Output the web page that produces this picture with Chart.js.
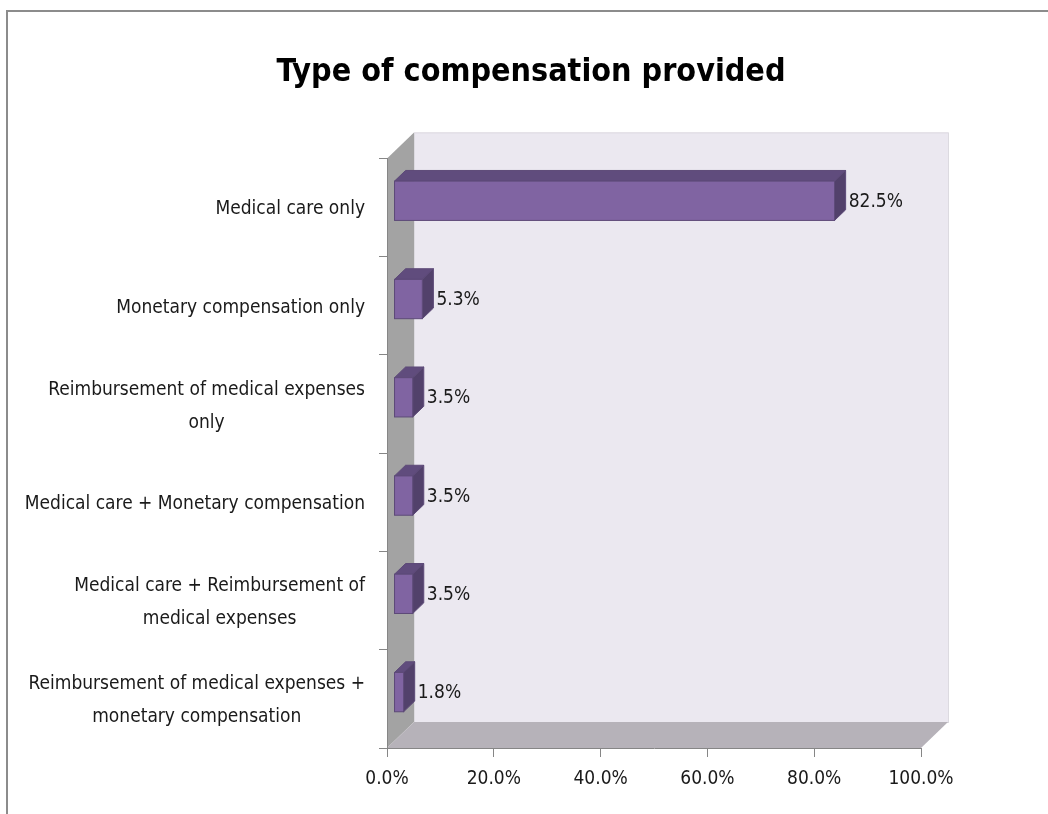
<!DOCTYPE html>
<html>
<head>
<meta charset="utf-8">
<title>Type of compensation provided</title>
<script src="https://cdn.jsdelivr.net/npm/chart.js@4.4.1/dist/chart.umd.min.js"></script>
<style>
  html, body { margin: 0; padding: 0; background: #fff; }
  #wrap { width: 1048px; height: 814px; }
</style>
</head>
<body>
<div id="wrap"><canvas id="comp-chart" width="1048" height="814"></canvas></div>
<script>
// categories, top to bottom
const categories = [
  "Medical care only",
  "Monetary compensation only",
  ["Reimbursement of medical expenses", "only"],
  "Medical care + Monetary compensation",
  ["Medical care + Reimbursement of", "medical expenses"],
  ["Reimbursement of medical expenses +", "monetary compensation"]
];
// share of respondents, percent
const shares = [82.5, 5.3, 3.5, 3.5, 3.5, 1.8];
const xTickValues = [0, 20, 40, 60, 80, 100];

const FONT = "'Liberation Sans Narrow', 'DejaVu Sans Condensed', 'Liberation Sans', sans-serif";
const TEXT_SIZE = 19;

// oblique depth of the box (front plane -> back wall)
const DX = 27, DY = -26;
// bars sit between these depth fractions
const Z1 = 0.26, Z2 = 0.67;

const threeD = {
  id: 'threeD',
  beforeDraw(chart) {
    const ctx = chart.ctx;
    const a = chart.chartArea;
    ctx.save();
    // outer frame
    ctx.fillStyle = '#8c8c8c';
    ctx.fillRect(6, 10, 1048, 2);
    ctx.fillRect(6, 10, 2, 814);

    // back wall
    ctx.fillStyle = '#ebe8f0';
    ctx.fillRect(a.left + DX, a.top + DY, a.right - a.left, a.bottom - a.top);
    ctx.strokeStyle = '#dcdae0';
    ctx.lineWidth = 1;
    ctx.strokeRect(a.left + DX + 0.5, a.top + DY + 0.5, a.right - a.left, a.bottom - a.top);

    // side wall
    ctx.fillStyle = '#a3a3a3';
    ctx.beginPath();
    ctx.moveTo(a.left, a.top);
    ctx.lineTo(a.left + DX, a.top + DY);
    ctx.lineTo(a.left + DX, a.bottom + DY);
    ctx.lineTo(a.left, a.bottom);
    ctx.closePath();
    ctx.fill();

    // floor
    ctx.fillStyle = '#b6b2b9';
    ctx.beginPath();
    ctx.moveTo(a.left, a.bottom);
    ctx.lineTo(a.left + DX, a.bottom + DY);
    ctx.lineTo(a.right + DX, a.bottom + DY);
    ctx.lineTo(a.right, a.bottom);
    ctx.closePath();
    ctx.fill();
    ctx.restore();
  },
  afterDatasetsDraw(chart) {
    const ctx = chart.ctx;
    const meta = chart.getDatasetMeta(0);
    const ox1 = DX * Z1, oy1 = DY * Z1;
    const ox2 = DX * Z2, oy2 = DY * Z2;
    ctx.save();
    ctx.lineWidth = 1;
    ctx.strokeStyle = '#5d4a78';
    meta.data.forEach((bar, i) => {
      const p = bar.getProps(['x', 'y', 'base', 'height'], true);
      const x0 = p.base + ox1, x1 = p.x + ox1;
      const t = p.y - p.height / 2 + oy1, b = p.y + p.height / 2 + oy1;
      const dx = ox2 - ox1, dy = oy2 - oy1;

      // top face
      ctx.fillStyle = '#604c7d';
      ctx.beginPath();
      ctx.moveTo(x0, t);
      ctx.lineTo(x0 + dx, t + dy);
      ctx.lineTo(x1 + dx, t + dy);
      ctx.lineTo(x1, t);
      ctx.closePath();
      ctx.fill();
      ctx.stroke();

      // end face
      ctx.fillStyle = '#52416b';
      ctx.beginPath();
      ctx.moveTo(x1, t);
      ctx.lineTo(x1 + dx, t + dy);
      ctx.lineTo(x1 + dx, b + dy);
      ctx.lineTo(x1, b);
      ctx.closePath();
      ctx.fill();
      ctx.stroke();

      // front face
      ctx.fillStyle = '#8064a2';
      ctx.fillRect(x0, t, x1 - x0, b - t);
      ctx.strokeRect(x0, t, x1 - x0, b - t);

      // value label
      ctx.fillStyle = '#1a1a1a';
      ctx.font = TEXT_SIZE + 'px ' + FONT;
      ctx.textAlign = 'left';
      ctx.textBaseline = 'middle';
      ctx.fillText(shares[i].toFixed(1) + '%', p.x + ox2 + 3, p.y + oy1 + 1);
    });
    ctx.restore();
  },
  afterDraw(chart) {
    // category labels, multi-line ones centred on each other
    const ctx = chart.ctx;
    const ys = chart.scales.y;
    const right = ys.right - 22;
    const lineH = 33;
    ctx.save();
    ctx.font = TEXT_SIZE + 'px ' + FONT;
    ctx.fillStyle = '#1a1a1a';
    ctx.textAlign = 'center';
    ctx.textBaseline = 'middle';
    categories.forEach((lab, i) => {
      const lines = Array.isArray(lab) ? lab : [lab];
      const w = Math.max(...lines.map(l => ctx.measureText(l).width));
      const cx = right - w / 2;
      const cy = ys.getPixelForValue(i) + 2;
      lines.forEach((l, k) => {
        ctx.fillText(l, cx, cy + (k - (lines.length - 1) / 2) * lineH);
      });
    });
    ctx.restore();
  }
};

new Chart(document.getElementById('comp-chart'), {
  type: 'bar',
  data: {
    labels: categories,
    datasets: [{
      label: 'Type of compensation provided',
      data: shares,
      backgroundColor: 'rgba(0,0,0,0)',
      borderWidth: 0,
      barPercentage: 0.4,
      categoryPercentage: 1
    }]
  },
  options: {
    indexAxis: 'y',
    responsive: false,
    animation: false,
    layout: { padding: { left: 141, right: 127, top: 10, bottom: 0 } },
    plugins: {
      legend: { display: false },
      tooltip: { enabled: false },
      title: {
        display: true,
        text: 'Type of compensation provided',
        color: '#000',
        font: { family: FONT, size: 32, weight: 'bold', lineHeight: 1.2 },
        padding: { top: 43, bottom: 67 }
      }
    },
    scales: {
      x: {
        min: 0,
        max: 100,
        afterBuildTicks(scale) {
          scale.ticks = xTickValues.map(v => ({ value: v }));
        },
        afterFit(scale) { scale.height = 66; },
        ticks: {
          color: '#1a1a1a',
          font: { family: FONT, size: TEXT_SIZE },
          padding: 11,
          maxRotation: 0,
          callback: v => v.toFixed(1) + '%'
        },
        grid: { drawOnChartArea: false, drawTicks: true, tickLength: 9, color: '#868686' },
        border: { color: '#868686', width: 1 }
      },
      y: {
        afterFit(scale) { scale.width = 387 - 141; },
        ticks: { display: false },
        grid: { drawOnChartArea: false, drawTicks: true, tickLength: 8, color: '#868686', offset: true },
        border: { color: '#868686', width: 1 }
      }
    }
  },
  plugins: [threeD]
});
</script>
</body>
</html>
